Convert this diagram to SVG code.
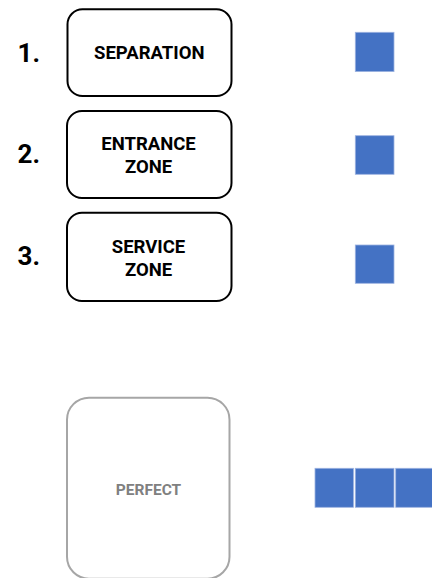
<svg xmlns="http://www.w3.org/2000/svg" width="432" height="578" viewBox="0 0 432 578">
<style>
.box{fill:#fff;stroke:#000;stroke-width:2}
.gbox{fill:#fff;stroke:#a6a6a6;stroke-width:2}
.lbl{font-family:Roboto,"Liberation Sans",sans-serif;font-weight:bold;font-size:18.5px;fill:#000;text-anchor:middle}
.num{font-family:Roboto,"Liberation Sans",sans-serif;font-weight:bold;font-size:26px;fill:#000}
.glbl{font-family:Roboto,"Liberation Sans",sans-serif;font-weight:bold;font-size:15.5px;fill:#808080;text-anchor:middle}
.sq{fill:#4472c4;stroke:#9db3e0;stroke-width:0.8}
</style>
<rect width="432" height="578" fill="#fff"/>
<g id="num1"><text class="num" x="17.5" y="62">1.</text></g>
<g id="num2"><text class="num" x="17.5" y="163">2.</text></g>
<g id="num3"><text class="num" x="17.5" y="265">3.</text></g>
<g id="separation">
<rect class="box" x="67.5" y="9.3" width="164" height="86.7" rx="15"/>
<text class="lbl" x="149.3" y="59.3">SEPARATION</text>
</g>
<g id="entrance">
<rect class="box" x="67" y="111" width="164.5" height="87" rx="15"/>
<text class="lbl" x="148.5" y="150">ENTRANCE</text>
<text class="lbl" x="148.5" y="173.3">ZONE</text>
</g>
<g id="service">
<rect class="box" x="67" y="212.7" width="164.5" height="88.3" rx="15"/>
<text class="lbl" x="148.5" y="253.3">SERVICE</text>
<text class="lbl" x="148.5" y="276.3">ZONE</text>
</g>
<g id="perfect">
<rect class="gbox" x="67" y="397.7" width="162.5" height="181" rx="22"/>
<text class="glbl" x="148.5" y="495">PERFECT</text>
</g>
<g id="sq1"><rect class="sq" x="355.3" y="32.3" width="38.7" height="39.3"/></g>
<g id="sq2"><rect class="sq" x="355.3" y="135.7" width="38.7" height="38.6"/></g>
<g id="sq3"><rect class="sq" x="355.3" y="245" width="38.7" height="38.3"/></g>
<g id="sqrow">
<rect class="sq" x="315" y="468.3" width="38.5" height="39"/>
<rect class="sq" x="355.3" y="468.3" width="38.7" height="39"/>
<rect class="sq" x="395.7" y="468.3" width="38.7" height="39"/>
</g>
<g id="connectors"/>
</svg>
